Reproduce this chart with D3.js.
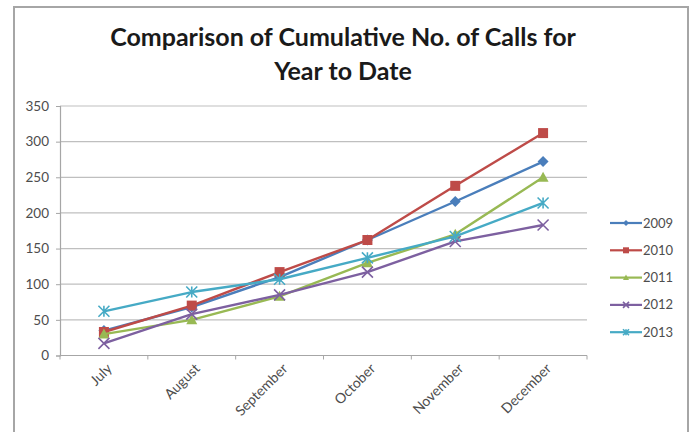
<!DOCTYPE html>
<html>
<head>
<meta charset="utf-8">
<script src="https://cdn.jsdelivr.net/npm/d3@7"></script>
<style>
  html, body { margin: 0; padding: 0; background: #fff; }
  svg { display: block; }
</style>
</head>
<body>
<svg id="chart" width="695" height="432"></svg>
<script>
// Months on the category axis
const months = ["July", "August", "September", "October", "November", "December"];
// Cumulative calls per year
const years = ["2009", "2010", "2011", "2012", "2013"];
const calls2009 = [35, 68, 110, 162, 216, 272];
const calls2010 = [33, 70, 117, 162, 238, 312];
const calls2011 = [30, 50, 83, 130, 170, 250];
const calls2012 = [17, 58, 85, 117, 160, 183];
const calls2013 = [62, 89, 107, 137, 167, 214];
const yTicks = [0, 50, 100, 150, 200, 250, 300, 350];
const colors = ["#4A7EBB", "#BE4B48", "#98B954", "#7D60A0", "#46AAC5"];
const shapes = ["diamond", "square", "triangle", "x", "star"];

const seriesValues = [calls2009, calls2010, calls2011, calls2012, calls2013];
const series = years.map((y, i) => ({ name: y, values: seriesValues[i], color: colors[i], shape: shapes[i] }));

const svg = d3.select("#chart");
const font = "Lato, 'Open Sans', sans-serif";

// outer chart frame
svg.append("rect")
  .attr("x", 14).attr("y", 7).attr("width", 674).attr("height", 440)
  .attr("fill", "#fff").attr("stroke", "#a6a6a6").attr("stroke-width", 2);

// title
const title = svg.append("text")
  .attr("x", 343).attr("text-anchor", "middle")
  .attr("font-family", font).attr("font-weight", "bold")
  .attr("font-size", 25).attr("fill", "#1a1a1a");
title.append("tspan").attr("x", 343).attr("y", 46).text("Comparison of Cumulative No. of Calls for");
title.append("tspan").attr("x", 343).attr("y", 80).text("Year to Date");

const plot = { left: 60, right: 587, top: 106, bottom: 355.5 };

const x = d3.scaleBand().domain(months).range([plot.left, plot.right]);
const y = d3.scaleLinear().domain([0, 350]).range([plot.bottom, plot.top]);

// horizontal gridlines
svg.append("g")
  .selectAll("line")
  .data(yTicks.filter(d => d > 0))
  .join("line")
  .attr("x1", plot.left).attr("x2", plot.right)
  .attr("y1", d => y(d)).attr("y2", d => y(d))
  .attr("stroke", "#bfbfbf").attr("stroke-width", 1.2);

// y axis
const yAxis = svg.append("g")
  .attr("transform", `translate(${plot.left},0)`)
  .call(d3.axisLeft(y).tickValues(yTicks).tickSize(4).tickPadding(7));
yAxis.select(".domain").attr("stroke", "#a6a6a6").attr("stroke-width", 1.2);
yAxis.selectAll(".tick line").attr("stroke", "#a6a6a6");
yAxis.selectAll("text").attr("font-family", font).attr("font-size", 13.5).attr("fill", "#4d4d4d");

// x axis with ticks on category boundaries
const xAxisG = svg.append("g").attr("transform", `translate(0,${plot.bottom})`);
xAxisG.append("line")
  .attr("x1", plot.left).attr("x2", plot.right)
  .attr("stroke", "#a6a6a6").attr("stroke-width", 1.2);
const bounds = months.map(m => x(m)).concat([x(months[months.length - 1]) + x.bandwidth()]);
xAxisG.selectAll("line.tk").data(bounds).join("line").attr("class", "tk")
  .attr("x1", d => d).attr("x2", d => d).attr("y1", 0).attr("y2", 4)
  .attr("stroke", "#a6a6a6");
xAxisG.selectAll("text").data(months).join("text")
  .attr("transform", d => `translate(${x(d) + x.bandwidth() / 2 + 9},${14}) rotate(-45)`)
  .attr("text-anchor", "end")
  .attr("font-family", font).attr("font-size", 14).attr("fill", "#4d4d4d")
  .text(d => d);

const cx = m => x(m) + x.bandwidth() / 2;

function drawMarker(g, shape, color, px, py, s) {
  if (shape === "diamond") {
    g.append("path").attr("d", `M${px},${py - s}L${px + s},${py}L${px},${py + s}L${px - s},${py}Z`).attr("fill", color);
  } else if (shape === "square") {
    g.append("rect").attr("x", px - s).attr("y", py - s).attr("width", 2 * s).attr("height", 2 * s).attr("fill", color);
  } else if (shape === "triangle") {
    g.append("path").attr("d", `M${px},${py - s}L${px + s},${py + s * 0.8}L${px - s},${py + s * 0.8}Z`).attr("fill", color);
  } else if (shape === "x") {
    g.append("path").attr("d", `M${px - s},${py - s}L${px + s},${py + s}M${px - s},${py + s}L${px + s},${py - s}`)
      .attr("stroke", color).attr("stroke-width", 1.6).attr("fill", "none");
  } else if (shape === "star") {
    g.append("path").attr("d", `M${px - s},${py - s}L${px + s},${py + s}M${px - s},${py + s}L${px + s},${py - s}M${px},${py - s}L${px},${py + s}`)
      .attr("stroke", color).attr("stroke-width", 1.6).attr("fill", "none");
  }
}

const line = d3.line().x((d, i) => cx(months[i])).y(d => y(d));

series.forEach(s => {
  const g = svg.append("g");
  g.append("path").datum(s.values).attr("d", line)
    .attr("fill", "none").attr("stroke", s.color).attr("stroke-width", 2.4)
    .attr("stroke-linejoin", "round");
  s.values.forEach((v, i) => drawMarker(g, s.shape, s.color, cx(months[i]), y(v), s.shape === "square" ? 5 : 5.5));
});

// legend
const legend = svg.append("g");
series.forEach((s, i) => {
  const ly = 223 + i * 27.3;
  legend.append("line").attr("x1", 610).attr("x2", 642).attr("y1", ly).attr("y2", ly)
    .attr("stroke", s.color).attr("stroke-width", 2.2);
  drawMarker(legend, s.shape, s.color, 626, ly, 3);
  legend.append("text").attr("x", 643).attr("y", ly + 4.5)
    .attr("font-family", font).attr("font-size", 13).attr("fill", "#4d4d4d")
    .text(s.name);
});
</script>
</body>
</html>
